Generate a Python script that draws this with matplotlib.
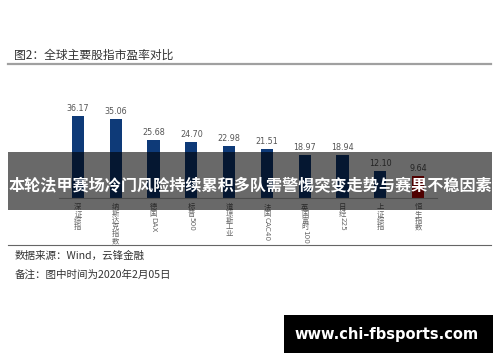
import matplotlib
matplotlib.use("Agg")
import matplotlib.pyplot as plt
from matplotlib.patches import Rectangle
from matplotlib.lines import Line2D

plt.rcParams['font.family'] = ['Noto Sans CJK SC', 'DejaVu Sans']

categories = ["深证综指", "纳斯达克指数", "德国DAX", "标普500", "道琼斯工业",
              "法国CAC40", "英国富时100", "日经225", "上证综指", "恒生指数"]
values = [36.17, 35.06, 25.68, 24.70, 22.98, 21.51, 18.97, 18.94, 12.10, 9.64]
bar_colors = ["#0E3A78"] * 9 + ["#C00000"]

title = "图2：全球主要股指市盈率对比"
source = "数据来源：Wind，云锋金融"
note = "备注：图中时间为2020年2月05日"
banner = "本轮法甲赛场冷门风险持续累积多队需警惕突变走势与赛果不稳因素"
watermark = "www.chi-fbsports.com"

W, H = 500, 362
fig = plt.figure(figsize=(W / 100, H / 100), dpi=100)
fig.patch.set_facecolor("white")

def fx(px):
    return px / W

def fy(py):
    return 1 - py / H

# main axes
ax_left, ax_right, ax_base, ax_top = 59, 437, 198, 96
ax = fig.add_axes([fx(ax_left), fy(ax_base), (ax_right - ax_left) / W, (ax_base - ax_top) / H])
ax.set_facecolor("none")
x = list(range(len(categories)))
ax.bar(x, values, width=0.32, color=bar_colors, zorder=2)
ax.set_xlim(-0.5, len(categories) - 0.5)
ax.set_ylim(0, 45)
for s in ["top", "right", "left"]:
    ax.spines[s].set_visible(False)
ax.spines["bottom"].set_color("#bbbbbb")
ax.spines["bottom"].set_linewidth(0.8)
ax.set_xticks([])
ax.set_yticks([])

for i, v in enumerate(values):
    ax.annotate(f"{v:.2f}", xy=(i, v), xytext=(0, 3), textcoords="offset pixels",
                ha="center", va="bottom", fontsize=5.8, color="#555555",
                family=["DejaVu Sans"], annotation_clip=False)

def is_cjk(ch):
    return ord(ch) > 0x2E80

step = 6.8
for i, lab in enumerate(categories):
    cur = 5
    runs = []
    buf = ""
    for ch in lab:
        if is_cjk(ch):
            if buf:
                runs.append(buf)
                buf = ""
            runs.append(ch)
        else:
            buf += ch
    if buf:
        runs.append(buf)
    for r in runs:
        if is_cjk(r[0]):
            ax.annotate(r, xy=(i, 0), xytext=(0, -cur), textcoords="offset pixels",
                        ha="center", va="top", fontsize=5.3, color="#666666",
                        annotation_clip=False)
            cur += step
        else:
            ax.annotate(r, xy=(i, 0), xytext=(0, -cur), textcoords="offset pixels",
                        ha="center", va="top", fontsize=5.2, color="#666666",
                        rotation=-90, family=["DejaVu Sans"], annotation_clip=False)
            cur += len(r) * 4.1 + 1

# title and rules
fig.text(fx(14), fy(55), title, fontsize=8.5, color="#333333", ha="left", va="center")
fig.add_artist(Line2D([fx(8), fx(491)], [fy(64), fy(64)], color="#a0a0a0", lw=1.6))
fig.add_artist(Line2D([fx(8), fx(491)], [fy(245), fy(245)], color="#666666", lw=0.8))
fig.text(fx(15), fy(256), source, fontsize=7.6, color="#333333", ha="left", va="center")
fig.text(fx(15), fy(275), note, fontsize=7.6, color="#333333", ha="left", va="center")

# overlay banner
band = Rectangle((fx(8), fy(210)), fx(484), (210 - 152) / H, transform=fig.transFigure,
                 facecolor="black", alpha=0.59, edgecolor="none", zorder=5)
fig.add_artist(band)
fig.text(fx(250), fy(185), banner, fontsize=11.6, color="white", fontweight="bold",
         ha="center", va="center", zorder=6)

# watermark
wm = Rectangle((fx(284), fy(353)), fx(209), (353 - 315) / H, transform=fig.transFigure,
               facecolor="black", edgecolor="none", zorder=5)
fig.add_artist(wm)
fig.text(fx(387), fy(334), watermark, fontsize=10.5, color="white", fontweight="bold",
         ha="center", va="center", family=["DejaVu Sans"], zorder=6)

fig.savefig("out.png", dpi=100)
